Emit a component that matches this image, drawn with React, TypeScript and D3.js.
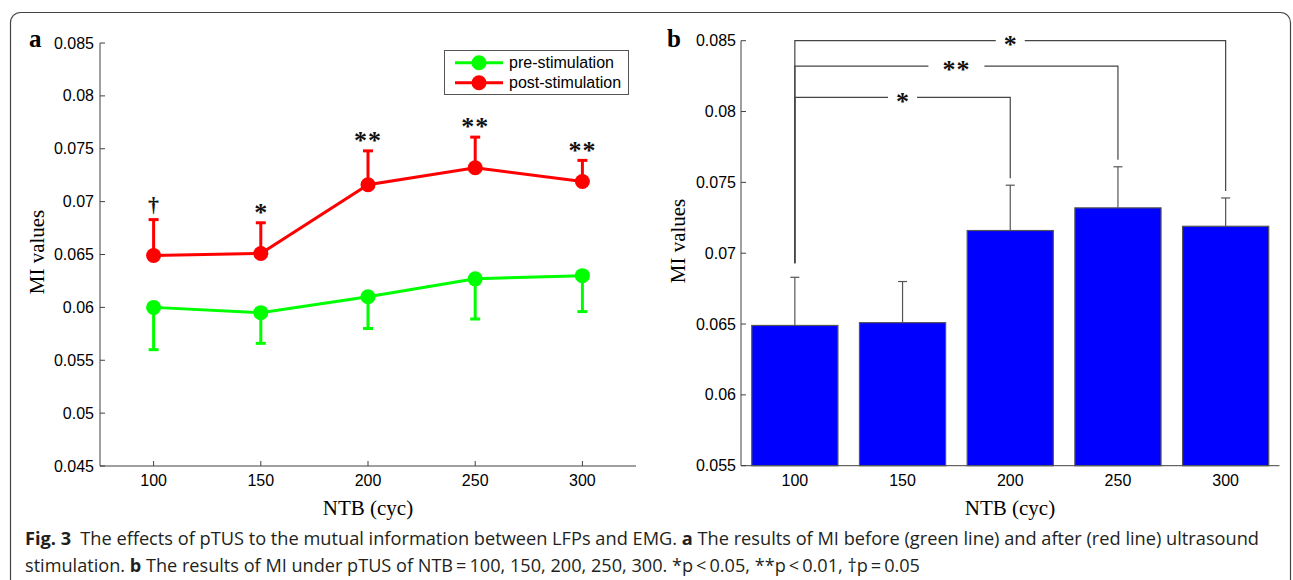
import React from "react";
import * as d3 from "d3";

// NTB (cycles) categories
const categories = [100, 150, 200, 250, 300];

// panel a: pre-stimulation mean and lower error bound
const preMean = [0.06, 0.0595, 0.061, 0.0627, 0.063];
const preLower = [0.056, 0.0566, 0.058, 0.0589, 0.0596];

// post-stimulation mean and upper error bound (used in both panels)
const postMean = [0.0649, 0.0651, 0.0716, 0.0732, 0.0719];
const postUpper = [0.0683, 0.068, 0.0748, 0.0761, 0.0739];

// significance marks above the red points in panel a
const sigLabelsA = ["\u2020", "*", "**", "**", "**"];

// brackets in panel b, all starting from NTB = 100
const bracketTo = [200, 250, 300];
const bracketLevel = [0.081, 0.0832, 0.085];
const bracketLabel = ["*", "**", "*"];

const yTicksA = [0.045, 0.05, 0.055, 0.06, 0.065, 0.07, 0.075, 0.08, 0.085];
const yTicksB = [0.055, 0.06, 0.065, 0.07, 0.075, 0.08, 0.085];

const SANS = "'Liberation Sans', Arial, Helvetica, sans-serif";
const SERIF = "'Liberation Serif', 'Times New Roman', serif";
const AXIS = "#404040";
const fmt = d3.format(".3~f");

const PanelA = () => {
    const x = d3.scaleLinear().domain([75, 325]).range([100, 636]);
    const y = d3.scaleLinear().domain([0.045, 0.085]).range([466, 43]);
    const line = d3.line<number>()
        .x((_, i) => x(categories[i]))
        .y(d => y(d));

    return (
        <g>
            {/* axes */}
            <line x1={x(75)} x2={x(75)} y1={y(0.085)} y2={y(0.045)} stroke={AXIS} />
            <line x1={x(75)} x2={x(325)} y1={y(0.045)} y2={y(0.045)} stroke={AXIS} />
            {yTicksA.map((t, i) => (
                <g key={i} transform={`translate(${x(75)},${y(t)})`}>
                    <line x2={5} stroke={AXIS} />
                    <text x={-6} y={5.5} textAnchor="end" style={{ fontSize: 16, fontFamily: SANS }}>{fmt(t)}</text>
                </g>
            ))}
            {categories.map((c, i) => (
                <g key={i} transform={`translate(${x(c)},${y(0.045)})`}>
                    <line y2={-5} stroke={AXIS} />
                    <text y={20} textAnchor="middle" style={{ fontSize: 16, fontFamily: SANS }}>{c}</text>
                </g>
            ))}
            <text x={x(200)} y={515} textAnchor="middle" style={{ fontSize: 21, fontFamily: SERIF }}>NTB (cyc)</text>
            <text transform="translate(44,252) rotate(-90)" textAnchor="middle" style={{ fontSize: 21, fontFamily: SERIF }}>MI values</text>
            <text x={29} y={47} style={{ fontSize: 25, fontFamily: SERIF, fontWeight: 700 }}>a</text>

            {/* pre-stimulation */}
            {categories.map((c, i) => (
                <g key={i} stroke="#00ff00" strokeWidth={3}>
                    <line x1={x(c)} x2={x(c)} y1={y(preMean[i])} y2={y(preLower[i])} />
                    <line x1={x(c) - 5} x2={x(c) + 5} y1={y(preLower[i])} y2={y(preLower[i])} />
                </g>
            ))}
            <path d={line(preMean) || ""} fill="none" stroke="#00ff00" strokeWidth={3} />
            {preMean.map((v, i) => (
                <circle key={i} cx={x(categories[i])} cy={y(v)} r={7.5} fill="#00ff00" />
            ))}

            {/* post-stimulation */}
            {categories.map((c, i) => (
                <g key={i} stroke="#ff0000" strokeWidth={3}>
                    <line x1={x(c)} x2={x(c)} y1={y(postMean[i])} y2={y(postUpper[i])} />
                    <line x1={x(c) - 5} x2={x(c) + 5} y1={y(postUpper[i])} y2={y(postUpper[i])} />
                </g>
            ))}
            <path d={line(postMean) || ""} fill="none" stroke="#ff0000" strokeWidth={3} />
            {postMean.map((v, i) => (
                <circle key={i} cx={x(categories[i])} cy={y(v)} r={7.5} fill="#ff0000" />
            ))}
            {sigLabelsA.map((s, i) => (
                <text key={i} x={x(categories[i])} y={y(postUpper[i]) - 14}
                    dy={s === "\u2020" ? "0.28em" : "0.47em"}
                    textAnchor="middle" letterSpacing={s.length > 1 ? 1 : 0}
                    style={{ fontSize: s === "\u2020" ? 22 : 26, fontFamily: SERIF, fontWeight: 700, fill: "#111" }}>{s}</text>
            ))}

            {/* legend */}
            <rect x={444.5} y={50.5} width={184} height={44} fill="#fff" stroke="#555" />
            {[["pre-stimulation", "#00ff00"], ["post-stimulation", "#ff0000"]].map(([label, col], i) => (
                <g key={i} transform={`translate(0,${62.7 + i * 20})`}>
                    <line x1={455} x2={503} stroke={col} strokeWidth={3} />
                    <circle cx={479} r={7.5} fill={col} />
                    <text x={509} y={5.5} style={{ fontSize: 16, fontFamily: SANS }}>{label}</text>
                </g>
            ))}
        </g>
    );
};

const PanelB = () => {
    const x = d3.scaleBand<number>().domain(categories).range([741, 1279.5])
        .paddingInner(0.2).paddingOuter(0.1);
    const y = d3.scaleLinear().domain([0.055, 0.085]).range([465.7, 40.7]);
    const cx = (c: number) => (x(c) || 0) + x.bandwidth() / 2;

    return (
        <g>
            <line x1={741} x2={741} y1={y(0.085)} y2={y(0.055)} stroke={AXIS} />
            <line x1={741} x2={1279.5} y1={y(0.055)} y2={y(0.055)} stroke={AXIS} />
            {yTicksB.map((t, i) => (
                <g key={i} transform={`translate(741,${y(t)})`}>
                    <line x2={5} stroke={AXIS} />
                    <text x={-5} y={5.5} textAnchor="end" style={{ fontSize: 16, fontFamily: SANS }}>{fmt(t)}</text>
                </g>
            ))}
            {categories.map((c, i) => (
                <text key={i} x={cx(c)} y={486} textAnchor="middle" style={{ fontSize: 16, fontFamily: SANS }}>{c}</text>
            ))}
            <text x={1010} y={515} textAnchor="middle" style={{ fontSize: 21, fontFamily: SERIF }}>NTB (cyc)</text>
            <text transform="translate(685,241) rotate(-90)" textAnchor="middle" style={{ fontSize: 21, fontFamily: SERIF }}>MI values</text>
            <text x={667} y={47} style={{ fontSize: 25, fontFamily: SERIF, fontWeight: 700 }}>b</text>

            {/* error bars */}
            {categories.map((c, i) => (
                <g key={i} stroke="#555" strokeWidth={1.2}>
                    <line x1={cx(c)} x2={cx(c)} y1={y(postMean[i])} y2={y(postUpper[i])} />
                    <line x1={cx(c) - 4.5} x2={cx(c) + 4.5} y1={y(postUpper[i])} y2={y(postUpper[i])} />
                </g>
            ))}
            {/* bars */}
            {categories.map((c, i) => (
                <rect key={i} x={x(c)} y={y(postMean[i])} width={x.bandwidth()}
                    height={y(0.055) - y(postMean[i])} fill="#0000ff" stroke="#555" strokeWidth={1.2} />
            ))}

            {/* significance brackets */}
            {bracketTo.map((to, i) => {
                const x0 = cx(categories[0]);
                const x1 = cx(to);
                const yl = y(bracketLevel[i]);
                const mid = (x0 + x1) / 2;
                const half = bracketLabel[i].length * 13.5 + 1;
                const j = categories.indexOf(to);
                return (
                    <g key={i}>
                        <path d={`M${x0},${y(postUpper[0]) - 14}V${yl}H${mid - half}`} fill="none" stroke="#444" strokeWidth={1.2} />
                        <path d={`M${mid + half},${yl}H${x1}V${y(postUpper[j]) - 7}`} fill="none" stroke="#444" strokeWidth={1.2} />
                        <text x={mid} y={yl} dy="0.47em" textAnchor="middle" letterSpacing={bracketLabel[i].length > 1 ? 1 : 0}
                            style={{ fontSize: 26, fontFamily: SERIF, fontWeight: 700, fill: "#111" }}>{bracketLabel[i]}</text>
                    </g>
                );
            })}
        </g>
    );
};

const App = () => (
    <svg width={1293} height={580} viewBox="0 0 1293 580"
        style={{ position: "absolute", left: 0, top: 0, display: "block", background: "#fff" }}>
        <rect x={10.5} y={12.5} width={1280} height={620} rx={10} fill="#fff" stroke="#444" strokeWidth={1.2} />
        <PanelA />
        <PanelB />
        <g style={{ fontFamily: "'Open Sans', 'Noto Sans', sans-serif", fontSize: 18, fill: "#231f20" }}>
            <text x={25} y={545} textLength={1234} lengthAdjust="spacingAndGlyphs">
                <tspan fontWeight={700}>Fig. 3</tspan>
                <tspan>{"\u2002The effects of pTUS to the mutual information between LFPs and EMG. "}</tspan>
                <tspan fontWeight={700}>a</tspan>
                <tspan>{" The results of MI before (green line) and after (red line) ultrasound"}</tspan>
            </text>
            <text x={25} y={572} textLength={895} lengthAdjust="spacingAndGlyphs">
                <tspan>{"stimulation. "}</tspan>
                <tspan fontWeight={700}>b</tspan>
                <tspan>{" The results of MI under pTUS of NTB\u2009=\u2009100, 150, 200, 250, 300. *p\u2009<\u20090.05, **p\u2009<\u20090.01, \u2020p\u2009=\u20090.05"}</tspan>
            </text>
        </g>
    </svg>
);

export default App;
